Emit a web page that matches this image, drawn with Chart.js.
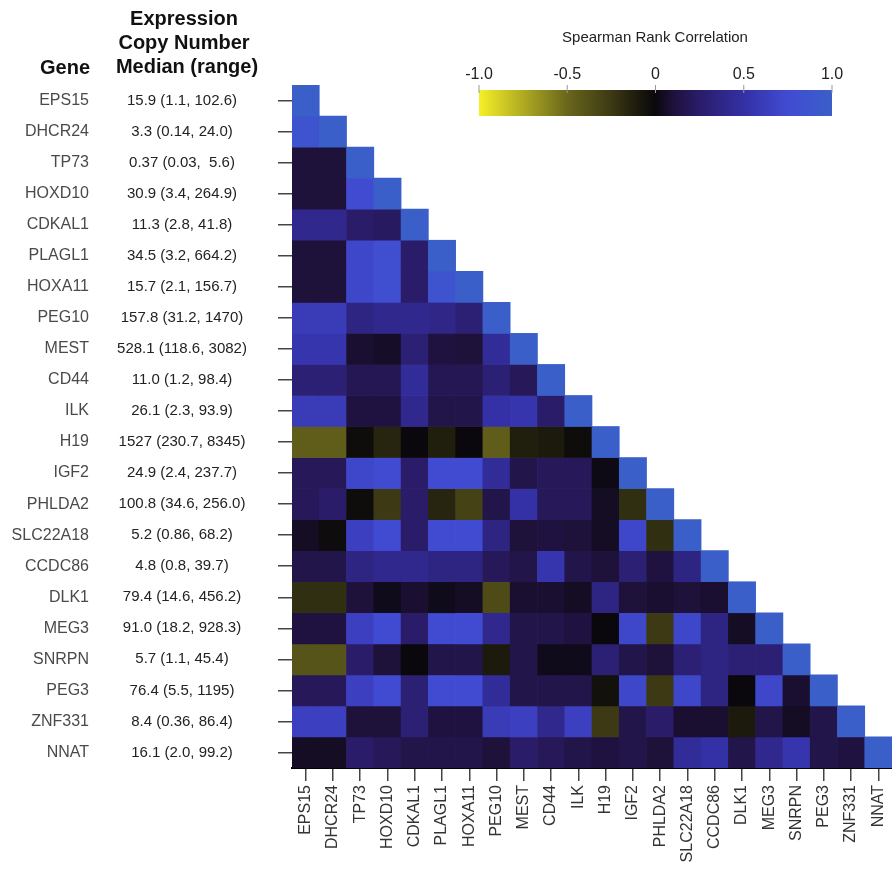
<!DOCTYPE html>
<html>
<head>
<meta charset="utf-8">
<script src="https://cdn.jsdelivr.net/npm/chart.js@4.4.0/dist/chart.umd.min.js"></script>
<style>
  html, body { margin: 0; padding: 0; background: #fff; }
  #wrap { width: 892px; height: 877px; }
</style>
</head>
<body>
<div id="wrap"><canvas id="heat" width="892" height="877"></canvas></div>
<script>
var genes = ['EPS15', 'DHCR24', 'TP73', 'HOXD10', 'CDKAL1', 'PLAGL1', 'HOXA11', 'PEG10', 'MEST', 'CD44', 'ILK',
  'H19', 'IGF2', 'PHLDA2', 'SLC22A18', 'CCDC86', 'DLK1', 'MEG3', 'SNRPN', 'PEG3', 'ZNF331', 'NNAT'];

var copyNumber = ['15.9 (1.1, 102.6)', '3.3 (0.14, 24.0)', '0.37 (0.03,  5.6)', '30.9 (3.4, 264.9)',
  '11.3 (2.8, 41.8)', '34.5 (3.2, 664.2)', '15.7 (2.1, 156.7)', '157.8 (31.2, 1470)', '528.1 (118.6, 3082)',
  '11.0 (1.2, 98.4)', '26.1 (2.3, 93.9)', '1527 (230.7, 8345)', '24.9 (2.4, 237.7)', '100.8 (34.6, 256.0)',
  '5.2 (0.86, 68.2)', '4.8 (0.8, 39.7)', '79.4 (14.6, 456.2)', '91.0 (18.2, 928.3)', '5.7 (1.1, 45.4)',
  '76.4 (5.5, 1195)', '8.4 (0.36, 86.4)', '16.1 (2.0, 99.2)'];

// lower triangle of the Spearman matrix, row i holds columns 0..i
var rho = [
  [1],
  [0.85, 1],
  [0.1, 0.1, 1],
  [0.1, 0.1, 0.75, 1],
  [0.4, 0.4, 0.25, 0.22, 1],
  [0.1, 0.1, 0.7, 0.8, 0.25, 1],
  [0.1, 0.1, 0.7, 0.8, 0.25, 0.85, 1],
  [0.6, 0.6, 0.35, 0.4, 0.4, 0.38, 0.3, 1],
  [0.55, 0.55, 0.08, 0.06, 0.3, 0.12, 0.1, 0.45, 1],
  [0.3, 0.3, 0.18, 0.18, 0.45, 0.18, 0.18, 0.3, 0.2, 1],
  [0.6, 0.6, 0.12, 0.12, 0.4, 0.15, 0.15, 0.5, 0.55, 0.25, 1],
  [-0.45, -0.45, -0.03, -0.15, 0, -0.12, 0, -0.45, -0.12, -0.1, -0.03, 1],
  [0.2, 0.2, 0.7, 0.75, 0.25, 0.75, 0.75, 0.45, 0.15, 0.2, 0.2, 0.02, 1],
  [0.2, 0.25, -0.03, -0.25, 0.25, -0.15, -0.3, 0.15, 0.5, 0.2, 0.2, 0.05, -0.2, 1],
  [0.05, -0.02, 0.65, 0.75, 0.25, 0.75, 0.75, 0.35, 0.1, 0.12, 0.1, 0.05, 0.7, -0.2, 1],
  [0.15, 0.15, 0.35, 0.4, 0.4, 0.35, 0.35, 0.2, 0.15, 0.55, 0.15, 0.1, 0.3, 0.12, 0.35, 1],
  [-0.2, -0.2, 0.1, 0.03, 0.08, 0.03, 0.05, -0.35, 0.08, 0.08, 0.05, 0.35, 0.1, 0.08, 0.1, 0.08, 1],
  [0.12, 0.12, 0.65, 0.75, 0.25, 0.75, 0.75, 0.4, 0.15, 0.15, 0.12, 0, 0.7, -0.25, 0.7, 0.35, 0.05, 1],
  [-0.4, -0.4, 0.25, 0.1, 0, 0.15, 0.15, -0.1, 0.15, 0.03, 0.03, 0.3, 0.15, 0.1, 0.3, 0.35, 0.3, 0.3, 1],
  [0.2, 0.2, 0.65, 0.75, 0.3, 0.75, 0.75, 0.45, 0.15, 0.15, 0.15, -0.05, 0.7, -0.25, 0.7, 0.35, 0, 0.7, 0.08, 1],
  [0.65, 0.65, 0.1, 0.1, 0.3, 0.12, 0.12, 0.6, 0.65, 0.4, 0.65, -0.25, 0.15, 0.25, 0.08, 0.08, -0.1, 0.15, 0.05, 0.15, 1],
  [0.05, 0.05, 0.25, 0.2, 0.15, 0.15, 0.15, 0.1, 0.25, 0.2, 0.15, 0.12, 0.15, 0.1, 0.45, 0.5, 0.15, 0.4, 0.55, 0.15, 0.12, 1]
];

var colorbarTicks = [-1, -0.5, 0, 0.5, 1];
var colorbarLabels = ['-1.0', '-0.5', '0', '0.5', '1.0'];

// yellow - black - blue colour scale
var stops = [
  [-1, [245, 240, 40]],
  [-0.5, [105, 102, 28]],
  [-0.25, [60, 57, 20]],
  [-0.1, [28, 26, 12]],
  [0, [10, 8, 12]],
  [0.1, [30, 17, 58]],
  [0.25, [42, 28, 105]],
  [0.5, [52, 48, 165]],
  [0.75, [65, 75, 210]],
  [1, [58, 95, 200]]
];

function corrColor(v) {
  for (var k = 1; k < stops.length; k++) {
    if (v <= stops[k][0]) {
      var a = stops[k - 1], b = stops[k];
      var t = (v - a[0]) / (b[0] - a[0]);
      var c = a[1].map(function(x, n){ return Math.round(x + (b[1][n] - x) * t); });
      return 'rgb(' + c.join(',') + ')';
    }
  }
  return 'rgb(' + stops[stops.length - 1][1].join(',') + ')';
}

var FONT = '"Liberation Sans", Arial, sans-serif';

var datasets = rho.map(function(row, i){
  return {
    label: genes[i],
    data: genes.map(function(g, j){ return j <= i ? [i - 0.5, i + 0.5] : null; }),
    backgroundColor: genes.map(function(g, j){ return j <= i ? corrColor(row[j]) : 'rgba(0,0,0,0)'; }),
    borderWidth: 0,
    barPercentage: 1,
    categoryPercentage: 1,
    grouped: false
  };
});

var sidePanel = {
  id: 'sidePanel',
  afterDraw: function(chart){
    var ctx = chart.ctx;
    var y = chart.scales.y;
    ctx.save();
    ctx.textBaseline = 'middle';

    // table headers
    ctx.fillStyle = '#111';
    ctx.font = 'bold 20px ' + FONT;
    ctx.textAlign = 'right';
    ctx.fillText('Gene', 90, 68);
    ctx.textAlign = 'center';
    ctx.fillText('Expression', 184, 19);
    ctx.fillText('Copy Number', 184, 43);
    ctx.fillText('Median (range)', 187, 67);

    // gene names and copy numbers, one per row
    genes.forEach(function(g, i){
      var py = y.getPixelForValue(i);
      ctx.font = '16px ' + FONT;
      ctx.fillStyle = '#4a4a4a';
      ctx.textAlign = 'right';
      ctx.fillText(g, 89, py);
      ctx.font = '15px ' + FONT;
      ctx.fillStyle = '#222';
      ctx.textAlign = 'center';
      ctx.fillText(copyNumber[i], 182, py);
    });

    // colour bar
    var bx0 = 479, bx1 = 832, by0 = 90, by1 = 116;
    var grad = ctx.createLinearGradient(bx0, 0, bx1, 0);
    stops.forEach(function(s){
      grad.addColorStop((s[0] + 1) / 2, 'rgb(' + s[1].join(',') + ')');
    });
    ctx.fillStyle = grad;
    ctx.fillRect(bx0, by0, bx1 - bx0, by1 - by0);

    ctx.fillStyle = '#222';
    ctx.font = '15px ' + FONT;
    ctx.textAlign = 'center';
    ctx.fillText('Spearman Rank Correlation', 655, 38);

    ctx.font = '16px ' + FONT;
    ctx.strokeStyle = '#999';
    ctx.lineWidth = 1;
    colorbarTicks.forEach(function(t, k){
      var px = bx0 + (t + 1) / 2 * (bx1 - bx0);
      ctx.fillText(colorbarLabels[k], px, 75);
      ctx.beginPath();
      ctx.moveTo(px, 85);
      ctx.lineTo(px, by0 + 3);
      ctx.stroke();
    });
    ctx.restore();
  }
};

new Chart(document.getElementById('heat').getContext('2d'), {
  type: 'bar',
  data: { labels: genes, datasets: datasets },
  options: {
    responsive: false,
    animation: false,
    devicePixelRatio: 1,
    layout: { padding: { top: 85, right: 0, left: 0, bottom: 0 } },
    plugins: { legend: { display: false }, tooltip: { enabled: false } },
    scales: {
      x: {
        type: 'category',
        grid: { drawOnChartArea: false, offset: false, tickLength: 13, color: '#444', lineWidth: 1.5 },
        border: { display: true, color: '#000', width: 2 },
        ticks: {
          autoSkip: false, maxRotation: 90, minRotation: 90, padding: 4,
          color: '#333', font: { family: FONT, size: 16 }
        },
        afterFit: function(scale){
          scale.height = 109;
          scale.paddingLeft = 0;
          scale.paddingRight = 0;
        }
      },
      y: {
        type: 'linear',
        reverse: true,
        min: -0.5,
        max: 21.5,
        grid: { drawOnChartArea: false, tickLength: 14, color: '#444', lineWidth: 1.5 },
        border: { display: false },
        ticks: { display: false },
        afterBuildTicks: function(scale){
          scale.ticks = genes.map(function(g, i){ return { value: i }; });
        },
        afterFit: function(scale){ scale.width = 292; }
      }
    }
  },
  plugins: [sidePanel]
});
</script>
</body>
</html>
